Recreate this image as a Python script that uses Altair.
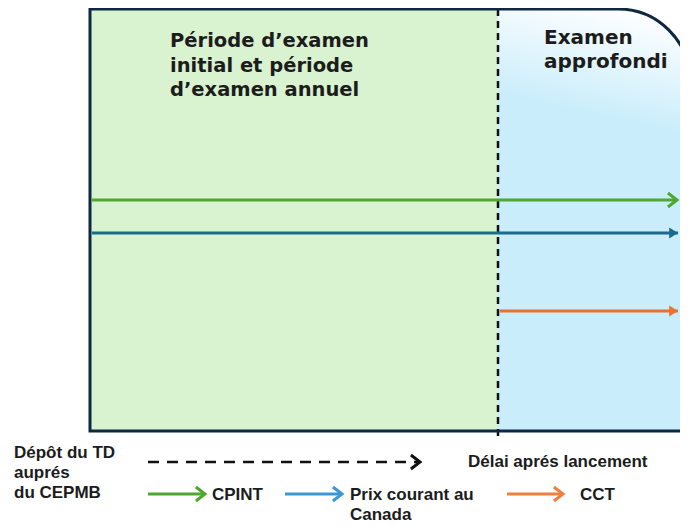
import altair as alt
import pandas as pd

# ---- diagram panels (pixel coordinates of the picture) ----
panel_names = ["Période d'examen initial et annuel", "Examen approfondi"]
panel_x0 = [90, 498]
panel_x1 = [498, 690]
panel_y0 = [9, 9]
panel_y1 = [431, 431]

divider_x = [498]
divider_y0 = [9]
divider_y1 = [437]

# ---- timeline arrows inside the frame ----
arrow_names = ["CPINT", "Prix courant au Canada", "CCT"]
arrow_x0 = [92, 92, 500]
arrow_x1 = [677, 678, 678]
arrow_y = [200, 233, 311]

# ---- texts ----
left_lines = ["Période d\u2019examen", "initial et période", "d\u2019examen annuel"]
left_y = [47, 71.5, 96]
right_lines = ["Examen", "approfondi"]
right_y = [44, 67.5]

legend_left_lines = ["Dépôt du TD", "auprés", "du CEPMB"]
legend_left_y = [458, 478, 498]

legend_labels = ["Délai aprés lancement", "CPINT", "Prix courant au", "Canada", "CCT"]
legend_label_x = [468, 212, 350, 350, 580]
legend_label_y = [467, 500, 500, 520, 500]

legend_arrow_names = ["Délai", "CPINT", "Prix", "CCT"]
legend_arrow_x0 = [148, 148, 285, 507]
legend_arrow_x1 = [420, 205, 342, 563]
legend_arrow_y = [462, 494, 494, 494]

X = alt.Scale(domain=[8, 680])
Y = alt.Scale(domain=[8, 524], reverse=True)

def xe(f):
    return alt.X(f, type="quantitative", scale=X, axis=None)

def ye(f):
    return alt.Y(f, type="quantitative", scale=Y, axis=None)

panels = pd.DataFrame({"name": panel_names, "x0": panel_x0, "x1": panel_x1,
                       "y0": panel_y0, "y1": panel_y1})

green_rect = alt.Chart(panels.iloc[[0]]).mark_rect(fill="#d9f2d0").encode(
    x=xe("x0"), x2="x1", y=ye("y0"), y2="y1")

blue_rect = alt.Chart(panels.iloc[[1]]).mark_rect(
    cornerRadiusTopRight=72,
    fill=alt.Gradient(
        gradient="linear",
        stops=[alt.GradientStop(color="#ffffff", offset=0),
               alt.GradientStop(color="#ffffff", offset=0.1),
               alt.GradientStop(color="#c9edfb", offset=1)],
        x1=1, y1=0, x2=0.97, y2=0.3),
).encode(x=xe("x0"), x2="x1", y=ye("y0"), y2="y1")

frame_df = pd.DataFrame({"x0": [panel_x0[0]], "x1": [panel_x1[1]],
                         "y0": [panel_y0[0]], "y1": [panel_y1[0]]})
frame = alt.Chart(frame_df).mark_rect(
    fill=None, fillOpacity=0, stroke="#0e2841", strokeWidth=3,
    cornerRadiusTopRight=72).encode(x=xe("x0"), x2="x1", y=ye("y0"), y2="y1")

divider_df = pd.DataFrame({"x": divider_x, "y0": divider_y0, "y1": divider_y1})
divider = alt.Chart(divider_df).mark_rule(
    color="#111111", strokeWidth=2.5, strokeDash=[7, 5]).encode(
    x=xe("x"), y=ye("y0"), y2="y1")

arrows = pd.DataFrame({"name": arrow_names, "x0": arrow_x0, "x1": arrow_x1, "y": arrow_y})
arrow_color = alt.Color("name:N", scale=alt.Scale(
    domain=arrow_names, range=["#4ea72e", "#1b6a8c", "#e97132"]), legend=None)

arrow_lines = alt.Chart(arrows).mark_rule(strokeWidth=3).encode(
    x=xe("x0"), x2="x1", y=ye("y"), color=arrow_color)

chevron = "M-1.3,-1L0,0L-1.3,1"
tri = "M-1.6,-1L0,0L-1.6,1Z"

green_head = alt.Chart(arrows.iloc[[0]]).mark_point(
    shape=chevron, size=196, filled=False, strokeWidth=3, opacity=1,
    color="#4ea72e").encode(x=xe("x1"), y=ye("y"))
tri_heads = alt.Chart(arrows.iloc[[1, 2]]).mark_point(
    shape=tri, size=121, filled=True, opacity=1).encode(
    x=xe("x1"), y=ye("y"),
    fill=alt.Fill("name:N", scale=alt.Scale(domain=arrow_names,
                  range=["#4ea72e", "#1b6a8c", "#e97132"]), legend=None))

left_df = pd.DataFrame({"t": left_lines, "x": [170] * 3, "y": left_y})
left_text = alt.Chart(left_df).mark_text(
    align="left", baseline="alphabetic", font="DejaVu Sans", fontWeight="bold",
    fontSize=19.5, color="#1c1c1c").encode(x=xe("x"), y=ye("y"), text="t:N")

right_df = pd.DataFrame({"t": right_lines, "x": [544] * 2, "y": right_y})
right_text = alt.Chart(right_df).mark_text(
    align="left", baseline="alphabetic", font="DejaVu Sans", fontWeight="bold",
    fontSize=20, color="#1c1c1c").encode(x=xe("x"), y=ye("y"), text="t:N")

# ---- legend ----
leg_left_df = pd.DataFrame({"t": legend_left_lines, "x": [14] * 3, "y": legend_left_y})
leg_left = alt.Chart(leg_left_df).mark_text(
    align="left", baseline="alphabetic", font="Liberation Sans", fontWeight="bold",
    fontSize=17, color="#1c1c1c").encode(x=xe("x"), y=ye("y"), text="t:N")

leg_lab_df = pd.DataFrame({"t": legend_labels, "x": legend_label_x, "y": legend_label_y})
leg_labels = alt.Chart(leg_lab_df).mark_text(
    align="left", baseline="alphabetic", font="Liberation Sans", fontWeight="bold",
    fontSize=17, color="#1c1c1c").encode(x=xe("x"), y=ye("y"), text="t:N")

leg_arrows = pd.DataFrame({"name": legend_arrow_names, "x0": legend_arrow_x0,
                           "x1": legend_arrow_x1, "y": legend_arrow_y})
leg_color_scale = alt.Scale(domain=legend_arrow_names,
                            range=["#111111", "#4ea72e", "#3a98d4", "#f07f3c"])

leg_dash = alt.Chart(leg_arrows.iloc[[0]]).mark_rule(
    strokeWidth=2.5, strokeDash=[11, 8], color="#111111").encode(
    x=xe("x0"), x2="x1", y=ye("y"))
leg_solid = alt.Chart(leg_arrows.iloc[[1, 2, 3]]).mark_rule(strokeWidth=3).encode(
    x=xe("x0"), x2="x1", y=ye("y"),
    color=alt.Color("name:N", scale=leg_color_scale, legend=None))
leg_heads = alt.Chart(leg_arrows).mark_point(
    shape=chevron, size=196, filled=False, strokeWidth=3, opacity=1).encode(
    x=xe("x1"), y=ye("y"),
    stroke=alt.Stroke("name:N", scale=leg_color_scale, legend=None))

chart = alt.layer(
    green_rect, blue_rect, divider, frame, arrow_lines, green_head, tri_heads,
    left_text, right_text, leg_dash, leg_solid, leg_heads, leg_left, leg_labels,
).resolve_scale(color="independent").properties(
    width=672, height=516, padding=0, autosize=alt.AutoSizeParams(type="none"),
    background="white",
).configure_view(strokeWidth=0)

chart.save("out.html", embed_options={"renderer": "svg", "actions": False})
